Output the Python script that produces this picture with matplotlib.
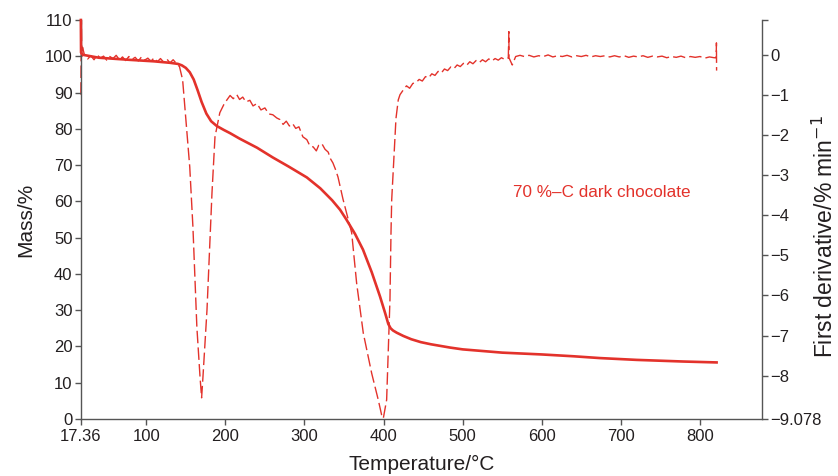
import matplotlib
matplotlib.use("Agg")
import matplotlib.pyplot as plt

plt.rcParams['font.family'] = ['Liberation Sans', 'DejaVu Sans']

RED = '#e3322b'
DARK = '#231f20'

# Mass curve (left axis), temperature in °C
mass_T = [17.36, 17.6, 20, 40, 80, 110, 130, 140, 145, 150, 155, 160, 165, 170, 176,
          182, 189, 198, 206, 218, 240, 260, 280, 303, 320, 335, 345, 353, 364, 374,
          385, 395.5, 402, 406, 409, 412, 416.6, 425, 435, 447, 460, 484, 500, 550,
          600, 640, 673.6, 720, 779, 821]
mass_val = [110.0, 101.0, 100.4, 99.6, 99.0, 98.6, 98.2, 97.9, 97.5, 96.8, 95.6,
            93.6, 90.6, 87.4, 84.2, 82.1, 80.8, 79.7, 78.8, 77.3, 74.8, 72.1, 69.6,
            66.6, 63.6, 60.3, 57.7, 55.0, 51.0, 46.7, 40.5, 33.8, 29.2, 26.2, 25.0,
            24.4, 23.8, 22.9, 22.0, 21.2, 20.6, 19.7, 19.2, 18.3, 17.8, 17.3, 16.8,
            16.3, 15.85, 15.6]

# First derivative curve (right axis)
der_T = [17.36, 18.0, 18.5, 19.5, 22, 26, 30, 34, 38, 42, 46, 50, 54, 58, 62, 66,
         70, 74, 78, 82, 86, 90, 94, 98, 102, 106, 110, 114, 118, 122, 126, 130,
         134, 138, 142, 146, 155, 159, 164, 168, 170, 171.7, 176.8, 183.1, 186.9,
         193, 198, 202, 206, 210, 214.5, 218, 222, 226, 231, 235, 240, 245, 250,
         255, 260, 265, 269, 273, 277, 281, 285, 289, 293, 298, 303, 307, 311, 315,
         318, 322, 326, 330, 333, 336, 339, 342.4, 348.7, 359.7, 366.0, 374.4,
         385.0, 393.3, 397.6, 399.7, 403.9, 406.0, 408.1, 409.4, 410.3, 415.7,
         418.6, 420.8, 425, 429, 433, 437, 441, 445, 449, 453, 457, 461, 465, 469,
         473, 477, 481, 485, 489, 493, 497, 501, 505, 509, 513, 517, 521, 525, 529,
         533, 537, 541, 545, 549, 553, 557.7, 558.4, 558.6, 559.0, 562.7, 567,
         572.5, 578, 584, 590, 596, 602, 608, 614, 620, 626, 632, 638, 644, 650,
         656, 662, 668, 674, 680, 686, 692, 698, 704, 710, 716, 722, 728, 734, 740,
         746, 752, 758, 764, 770, 776, 782, 788, 794, 800, 806, 812, 818, 820.5,
         820.8, 821.0]
der_val = [-1.0, 0.86, -0.05, 0.18, -0.02, -0.11, -0.03, -0.13, -0.01, -0.09, -0.04,
           -0.14, -0.05, -0.10, -0.02, -0.13, -0.06, -0.15, -0.05, -0.12, -0.07,
           -0.16, -0.06, -0.14, -0.09, -0.17, -0.08, -0.18, -0.10, -0.19, -0.11,
           -0.21, -0.13, -0.22, -0.30, -0.63, -2.80, -4.29, -6.79, -8.03, -8.55,
           -8.03, -6.36, -3.45, -2.05, -1.45, -1.25, -1.13, -1.02, -1.10, -1.00,
           -1.12, -1.06, -1.18, -1.14, -1.28, -1.22, -1.38, -1.33, -1.48, -1.50,
           -1.58, -1.62, -1.74, -1.66, -1.78, -1.72, -1.84, -1.80, -2.05, -2.12,
           -2.28, -2.30, -2.40, -2.26, -2.22, -2.36, -2.43, -2.60, -2.70, -2.85,
           -3.05, -3.60, -4.44, -5.70, -6.94, -7.94, -8.60, -8.98, -9.06, -8.60,
           -7.36, -6.11, -4.45, -3.62, -1.59, -1.13, -1.00, -0.88, -0.78, -0.84,
           -0.72, -0.70, -0.62, -0.66, -0.55, -0.58, -0.48, -0.52, -0.42, -0.46,
           -0.36, -0.40, -0.31, -0.35, -0.26, -0.30, -0.22, -0.27, -0.18, -0.23,
           -0.15, -0.20, -0.13, -0.18, -0.11, -0.16, -0.10, -0.14, -0.08, -0.12,
           -0.09, 0.57, -0.09, -0.10, -0.26, -0.05, -0.02, -0.05, -0.02, -0.06,
           -0.03, -0.05, -0.01, -0.06, -0.03, -0.05, -0.02, -0.06, -0.03, -0.05,
           -0.02, -0.06, -0.03, -0.05, -0.03, -0.06, -0.03, -0.06, -0.03, -0.07,
           -0.04, -0.06, -0.03, -0.07, -0.04, -0.06, -0.04, -0.08, -0.05, -0.07,
           -0.04, -0.08, -0.05, -0.07, -0.05, -0.09, -0.06, -0.08, -0.08, 0.29,
           -0.40]

x_ticks = [17.36, 100, 200, 300, 400, 500, 600, 700, 800]
x_labels = ['17.36', '100', '200', '300', '400', '500', '600', '700', '800']
left_ticks = list(range(0, 111, 10))
right_ticks = [0, -1, -2, -3, -4, -5, -6, -7, -8, -9.078]
right_labels = ['0', '\u22121', '\u22122', '\u22123', '\u22124', '\u22125', '\u22126',
                '\u22127', '\u22128', '\u22129.078']

fig = plt.figure(figsize=(8.38, 4.76), dpi=100)
ax = fig.add_axes([0.0965, 0.1197, 0.8128, 0.8383])
ax2 = ax.twinx()
ax.set_zorder(2)
ax.patch.set_visible(False)

ax.plot(mass_T, mass_val, color=RED, lw=1.9, solid_joinstyle='round', zorder=3,
        clip_on=False)
ax2.plot(der_T, der_val, color=RED, lw=1.0, dashes=(9, 3), zorder=2, clip_on=False)

ax.set_xlim(17.36, 878.4)
ax.set_ylim(0, 110)
ax2.set_ylim(-9.078, 0.86)

ax.set_xticks(x_ticks)
ax.set_xticklabels(x_labels)
ax.set_yticks(left_ticks)
ax2.set_yticks(right_ticks)
ax2.set_yticklabels(right_labels)
ax2.set_yticks([0.86], minor=True)

for a in (ax, ax2):
    a.spines['top'].set_visible(False)
    for s in a.spines.values():
        s.set_color('#555555')
        s.set_linewidth(1.0)
        s.set_zorder(0)
    a.tick_params(direction='out', length=4, width=1.0, color='#555555',
                  labelsize=12, labelcolor=DARK, pad=2)
ax2.tick_params(which='minor', direction='out', length=4, width=1.0, color='#555555')
ax.spines['right'].set_visible(False)
ax2.spines['left'].set_visible(False)
ax2.spines['bottom'].set_visible(False)
ax.tick_params(axis='x', pad=3)

ax.set_xlabel('Temperature/\u00b0C', fontsize=15, color=DARK, labelpad=8)
ax.set_ylabel('Mass/%', fontsize=15, color=DARK, labelpad=7)
fig.text(825 / 838, 1 - 236 / 476, 'First derivative/% min$^{\u22121}$', fontsize=16.5,
         color=DARK, rotation=90, ha='center', va='center')

ax.text(563.6, 62.5, '70 %\u2013C dark chocolate', color=RED, fontsize=12.3,
        ha='left', va='center')

fig.savefig('out.png', dpi=100)
